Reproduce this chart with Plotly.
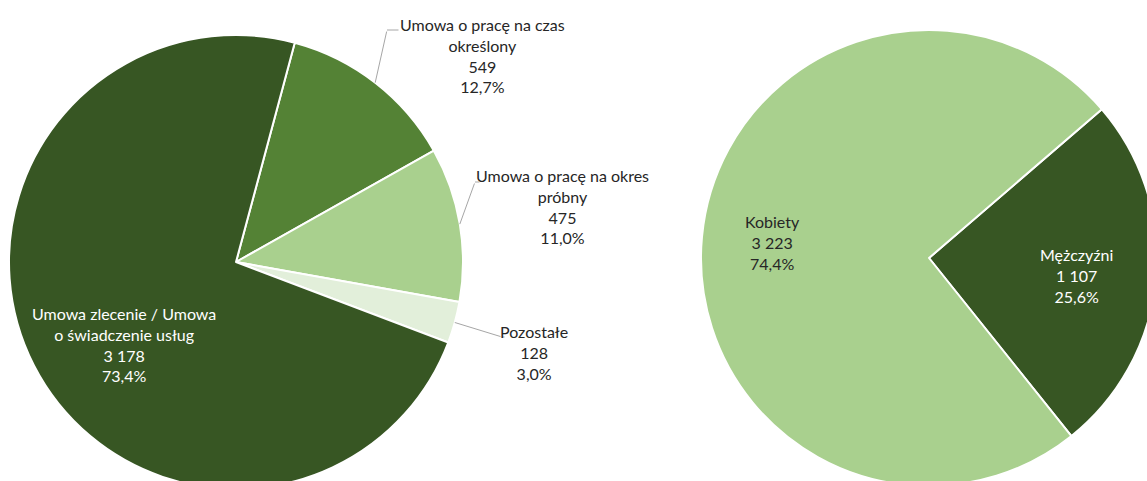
import math
import plotly.graph_objects as go

# ---- data ----
contract_labels = ["Umowa o pracę na czas określony", "Umowa o pracę na okres próbny",
                   "Pozostałe", "Umowa zlecenie / Umowa o świadczenie usług"]
contract_display = ["Umowa o pracę na czas<br>określony", "Umowa o pracę na okres<br>próbny",
                    "Pozostałe", "Umowa zlecenie / Umowa<br>o świadczenie usług"]
contract_values = [549, 475, 128, 3178]
contract_colors = ["#548235", "#A9D08E", "#E2EFDA", "#375623"]

gender_labels = ["Mężczyźni", "Kobiety"]
gender_values = [1107, 3223]
gender_colors = ["#375623", "#A9D08E"]

W, H = 1162, 495
OX, OY = 0, 0
FONT = "Lato"
FS = 16


def fmt_num(v):
    return f"{v:,}".replace(",", " ")


def fmt_pct(v, tot):
    return f"{100 * v / tot:.1f}%".replace(".", ",")


def label_text(name, v, tot):
    return f"{name}<br>{fmt_num(v)}<br>{fmt_pct(v, tot)}"


def px(x):
    return (x - OX) / W


def py(y):
    return 1 - (y - OY) / H


fig = go.Figure()

# left pie geometry (page pixels)
L_cx, L_cy, L_r = 236, 262, 227
L_rot = 15
fig.add_trace(go.Pie(
    labels=contract_labels, values=contract_values, sort=False, direction="clockwise",
    rotation=L_rot, textinfo="none", hoverinfo="label+value+percent",
    marker=dict(colors=contract_colors, line=dict(color="white", width=2)),
    domain=dict(x=[px(L_cx - L_r), px(L_cx + L_r)],
                y=[max(0, py(L_cy + L_r)), py(L_cy - L_r)]),
    showlegend=False,
))

R_cx, R_cy, R_r = 929, 258, 228
R_rot = 49.3
fig.add_trace(go.Pie(
    labels=gender_labels, values=gender_values, sort=False, direction="clockwise",
    rotation=R_rot, textinfo="none", hoverinfo="label+value+percent",
    marker=dict(colors=gender_colors, line=dict(color="white", width=2)),
    domain=dict(x=[px(R_cx - R_r), min(1, px(R_cx + R_r))],
                y=[max(0, py(R_cy + R_r)), py(R_cy - R_r)]),
    showlegend=False,
))

annotations = []
tot_c = sum(contract_values)
tot_g = sum(gender_values)

# label positions (page pixel centers) and leader elbow points
label_pos = [(482, 55), (562, 206), (534, 352), (124, 344)]
elbows = [[(387, 30), (400, 30)], [(475, 182), (481, 182)], [(502, 337), (506, 337)], None]
label_colors = ["#262626", "#262626", "#262626", "white"]

cum = 0
for i, v in enumerate(contract_values):
    mid = L_rot + 360 * (cum + v / 2) / tot_c
    cum += v
    hx = L_cx + L_r * math.sin(math.radians(mid))
    hy = L_cy - L_r * math.cos(math.radians(mid))
    if elbows[i]:
        pts = [(hx, hy)] + elbows[i]
        for (x0, y0), (x1, y1) in zip(pts[:-1], pts[1:]):
            annotations.append(dict(
                x=px(x0), y=py(y0), xref="paper", yref="paper", text="",
                showarrow=True, arrowhead=0, arrowwidth=1, arrowcolor="#A6A6A6",
                axref="pixel", ayref="pixel", ax=x1 - x0, ay=y1 - y0, standoff=0, startstandoff=0,
            ))
    lx, ly = label_pos[i]
    annotations.append(dict(
        x=px(lx), y=py(ly), xref="paper", yref="paper", xanchor="center", yanchor="middle",
        text=label_text(contract_display[i], v, tot_c), showarrow=False, align="center",
        font=dict(family=FONT, size=FS, color=label_colors[i]),
    ))

g_pos = [(1076, 275), (772, 242)]
g_colors = ["white", "#262626"]
for i, v in enumerate(gender_values):
    lx, ly = g_pos[i]
    annotations.append(dict(
        x=px(lx), y=py(ly), xref="paper", yref="paper", xanchor="center", yanchor="middle",
        text=label_text(gender_labels[i], v, tot_g), showarrow=False, align="center",
        font=dict(family=FONT, size=FS, color=g_colors[i]),
    ))

fig.update_layout(
    width=W, height=H, margin=dict(l=0, r=0, t=0, b=0),
    paper_bgcolor="white", plot_bgcolor="white",
    annotations=annotations,
    font=dict(family=FONT, size=FS),
)

fig.write_html(
    "out.html",
    config={"displayModeBar": False},
    post_script="document.body.style.margin='0';document.body.style.overflow='hidden';"
                "document.documentElement.style.overflow='hidden';",
)
